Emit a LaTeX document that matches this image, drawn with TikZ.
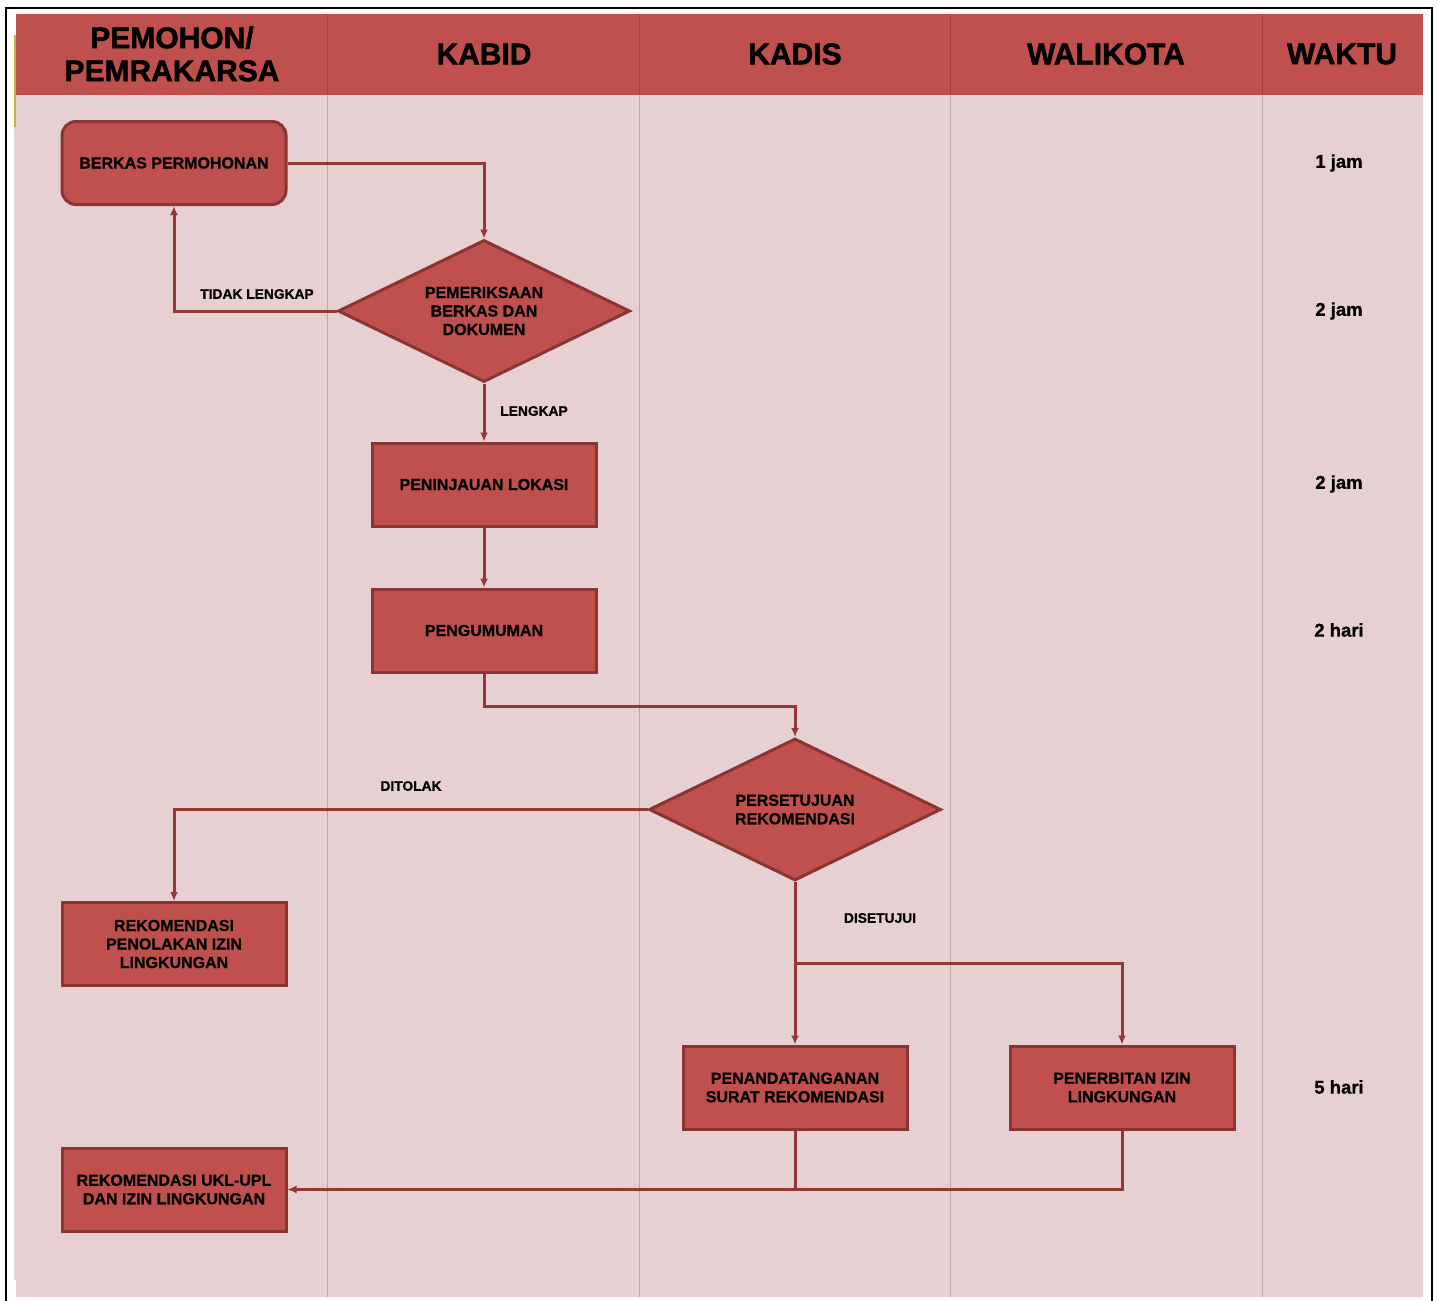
\documentclass[tikz,border=0pt]{standalone}
\usepackage{fontspec}
\setmainfont{Liberation Sans}
\newfontfamily\heavyfont{Liberation Sans}[BoldFeatures={FakeBold=1.6}]
\newfontfamily\semifont{Liberation Sans}[BoldFeatures={FakeBold=0.8}]
\usetikzlibrary{shapes.geometric,arrows.meta}
\definecolor{hdrred}{HTML}{C0504D}
\definecolor{hdrline}{HTML}{A8423F}
\definecolor{lanepink}{HTML}{E6D0D1}
\definecolor{lanegrey}{HTML}{BDA7A8}
\definecolor{boxline}{HTML}{8A3533}
\definecolor{flowline}{HTML}{953735}

\begin{document}
\begin{tikzpicture}[x=1pt,y=-1pt,
	proc/.style={draw=boxline,line width=3pt,fill=hdrred,minimum width=224pt,minimum height=83pt,inner sep=2pt,align=center,font=\semifont\fontsize{16}{18.5}\selectfont\bfseries},
	decide/.style={diamond,draw=boxline,line width=3pt,fill=hdrred,minimum width=292pt,minimum height=142pt,aspect=2,inner sep=0pt,align=center,font=\semifont\fontsize{16}{18.5}\selectfont\bfseries},
	lane/.style={font=\heavyfont\fontsize{30}{33}\selectfont\bfseries,align=center},
	tag/.style={font=\semifont\fontsize{13.8}{16}\selectfont\bfseries},
	time/.style={font=\semifont\fontsize{18.5}{21}\selectfont\bfseries},
	link/.style={draw=flowline,line width=3pt},
	flow/.style={link,-{Latex[length=9pt,width=8pt]}}]
	\useasboundingbox (0,0) rectangle (1438,1301);
	
	\fill[lanepink] (16,95) rectangle (1423,1297);
	\fill[hdrred] (16,14) rectangle (1423,95);
	\foreach \x in {327,639,950,1262} {
		\draw[hdrline,line width=1pt] (\x,14) -- (\x,95);
		\draw[lanegrey,line width=1pt] (\x,95) -- (\x,1297);
	}
	\draw[olive!60,line width=2pt] (15,35) -- (15,127);
	\draw[black!15,line width=2pt] (15,127) -- (15,1280);
	\draw[black,line width=2pt] (6,1301) -- (6,8) -- (1432,8) -- (1432,1301);
	
	\node[lane] (h1) at (172,54) {PEMOHON/\\PEMRAKARSA};
	\node[lane] (h2) at (484,54) {KABID};
	\node[lane] (h3) at (795,54) {KADIS};
	\node[lane] (h4) at (1106,54) {WALIKOTA};
	\node[lane] (h5) at (1342,54) {WAKTU};
	
	\node[proc,rounded corners=14pt] (berkas) at (174,163) {BERKAS PERMOHONAN};
	\node[decide] (periksa) at (484,311) {PEMERIKSAAN\\BERKAS DAN\\DOKUMEN};
	\node[proc] (tinjau) at (484,484.5) {PENINJAUAN LOKASI};
	\node[proc] (umum) at (484,630.5) {PENGUMUMAN};
	\node[decide] (setuju) at (795,809.5) {PERSETUJUAN\\REKOMENDASI};
	\node[proc] (tolak) at (174,944) {REKOMENDASI\\PENOLAKAN IZIN\\LINGKUNGAN};
	\node[proc] (ttd) at (795,1087.5) {PENANDATANGANAN\\SURAT REKOMENDASI};
	\node[proc] (terbit) at (1122,1087.5) {PENERBITAN IZIN\\LINGKUNGAN};
	\node[proc] (ukl) at (174,1189.5) {REKOMENDASI UKL-UPL\\DAN IZIN LINGKUNGAN};
	
	\draw[flow] (berkas.east) -| (periksa.north);
	\draw[flow] (periksa.west) -| (berkas.south);
	\draw[flow] (periksa.south) -- (tinjau.north);
	\draw[flow] (tinjau.south) -- (umum.north);
	\draw[flow] (umum.south) -- ++(0,33) -| (setuju.north);
	\draw[flow] (setuju.west) -| (tolak.north);
	\draw[flow] (setuju.south) -- (ttd.north);
	\coordinate (cabang) at (795,963);
	\draw[flow] (cabang) -| (terbit.north);
	\draw[link] (ttd.south) -- (ttd.south |- ukl.east);
	\draw[flow] (terbit.south) |- (ukl.east);
	
	\node[tag] (tidak) at (257,294) {TIDAK LENGKAP};
	\node[tag] (lengkap) at (534,411) {LENGKAP};
	\node[tag] (ditolak) at (411,786) {DITOLAK};
	\node[tag] (disetujui) at (880,918) {DISETUJUI};
	
	\node[time] (w1) at (1339,163) {1 jam};
	\node[time] (w2) at (1339,311) {2 jam};
	\node[time] (w3) at (1339,484) {2 jam};
	\node[time] (w4) at (1339,630) {2 hari};
	\node[time] (w5) at (1339,1087) {5 hari};
\end{tikzpicture}
\end{document}
